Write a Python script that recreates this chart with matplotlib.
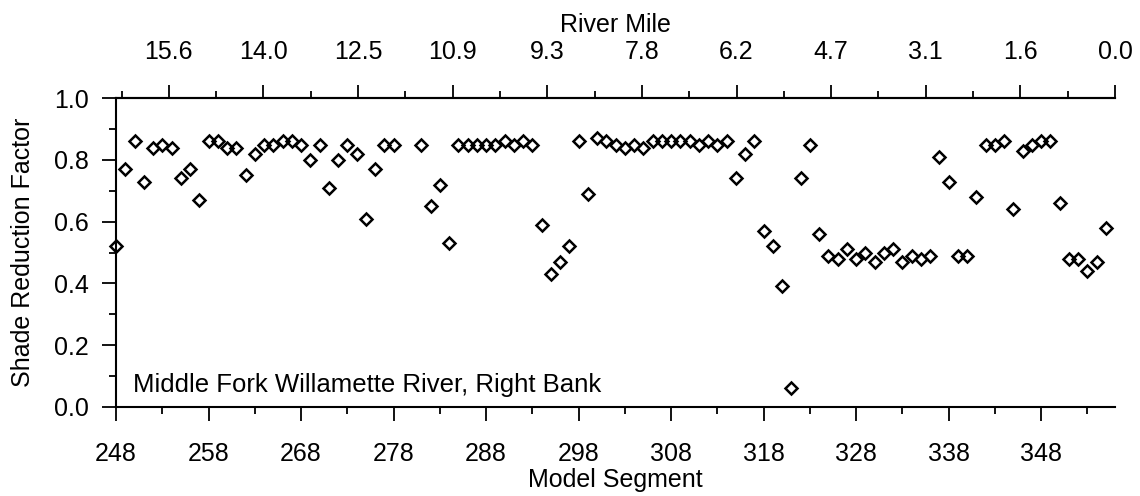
import matplotlib
matplotlib.use("Agg")
import matplotlib.pyplot as plt
from matplotlib.ticker import FixedLocator, MultipleLocator, NullFormatter

plt.rcParams['font.family'] = ['Liberation Sans', 'DejaVu Sans']

# Model segments (279 and 280 have no value)
segments = ([*range(248, 279)] + [*range(281, 356)])

shade_factor = [
    0.52, 0.77, 0.86, 0.73, 0.84, 0.85, 0.84, 0.74, 0.77, 0.67,   # 248-257
    0.86, 0.86, 0.84, 0.84, 0.75, 0.82, 0.85, 0.85, 0.86, 0.86,   # 258-267
    0.85, 0.80, 0.85, 0.71, 0.80, 0.85, 0.82, 0.61, 0.77, 0.85,   # 268-277
    0.85,                                                         # 278
    0.85, 0.65, 0.72, 0.53, 0.85, 0.85, 0.85, 0.85, 0.85,         # 281-289
    0.86, 0.85, 0.86, 0.85, 0.59, 0.43, 0.47, 0.52, 0.86, 0.69,   # 290-299
    0.87, 0.86, 0.85, 0.84, 0.85, 0.84, 0.86, 0.86, 0.86, 0.86,   # 300-309
    0.86, 0.85, 0.86, 0.85, 0.86, 0.74, 0.82, 0.86, 0.57, 0.52,   # 310-319
    0.39, 0.06, 0.74, 0.85, 0.56, 0.49, 0.48, 0.51, 0.48, 0.50,   # 320-329
    0.47, 0.50, 0.51, 0.47, 0.49, 0.48, 0.49, 0.81, 0.73, 0.49,   # 330-339
    0.49, 0.68, 0.85, 0.85, 0.86, 0.64, 0.83, 0.85, 0.86, 0.86,   # 340-349
    0.66, 0.48, 0.48, 0.44, 0.47, 0.58,                           # 350-355
]

segment_ticks = [248, 258, 268, 278, 288, 298, 308, 318, 328, 338, 348]
segment_range = (248, 356)

# Upper scale: river mile, decreasing downstream
river_mile_at_left = 16.47
river_mile_step = 1.56
river_mile_labels = ["0.0", "1.6", "3.1", "4.7", "6.2", "7.8",
                     "9.3", "10.9", "12.5", "14.0", "15.6"]

FS = 18

fig = plt.figure(figsize=(11.4, 4.96), dpi=100)
ax = fig.add_axes([0.1018, 0.180, 0.8763, 0.6218])

ax.plot(segments, shade_factor, linestyle='none', marker='D',
        markersize=6.4, markerfacecolor='none', markeredgecolor='black',
        markeredgewidth=1.8, clip_on=False, zorder=3)

ax.set_xlim(*segment_range)
ax.set_ylim(0, 1.0)

for side in ('left', 'bottom', 'top'):
    ax.spines[side].set_linewidth(1.5)
ax.spines['right'].set_visible(False)

ax.xaxis.set_major_locator(FixedLocator(segment_ticks))
ax.xaxis.set_minor_locator(FixedLocator([t + 5 for t in segment_ticks]))
ax.yaxis.set_major_locator(MultipleLocator(0.2))
ax.yaxis.set_minor_locator(MultipleLocator(0.1))
ax.yaxis.set_major_formatter(plt.FuncFormatter(lambda v, p: f"{v:.1f}"))

ax.tick_params(axis='x', which='major', direction='out', length=10, width=1.3,
               pad=15.5, labelsize=FS)
ax.tick_params(axis='x', which='minor', direction='out', length=5, width=1.3)
ax.tick_params(axis='y', which='major', direction='out', length=10, width=1.3,
               pad=9.5, labelsize=FS)
ax.tick_params(axis='y', which='minor', direction='out', length=4.7, width=1.3)
ax.tick_params(top=False, right=False, which='both')

ax.set_xlabel("Model Segment", fontsize=FS, labelpad=1)
ax.set_ylabel("Shade Reduction Factor", fontsize=FS, labelpad=14)

ax.text(0.017, 0.0486, "Middle Fork Willamette River, Right Bank",
        transform=ax.transAxes, fontsize=18.5, va='baseline', ha='left')

# River mile scale along the top edge
top = ax.twiny()
top.set_xlim(river_mile_at_left, 0)
mile_ticks = [i * river_mile_step for i in range(len(river_mile_labels))]
top.xaxis.set_major_locator(FixedLocator(mile_ticks))
top.xaxis.set_minor_locator(FixedLocator([m + river_mile_step / 2 for m in mile_ticks]))
top.set_xticklabels(river_mile_labels)
top.xaxis.set_minor_formatter(NullFormatter())
top.tick_params(axis='x', which='major', direction='out', length=9.4, width=1.3,
                pad=15, labelsize=FS)
top.tick_params(axis='x', which='minor', direction='out', length=5, width=1.3)
top.set_xlabel("River Mile", fontsize=FS, labelpad=6)
for side in ('left', 'right', 'bottom'):
    top.spines[side].set_visible(False)
top.spines['top'].set_linewidth(1.5)

fig.savefig("out.png", dpi=100)
